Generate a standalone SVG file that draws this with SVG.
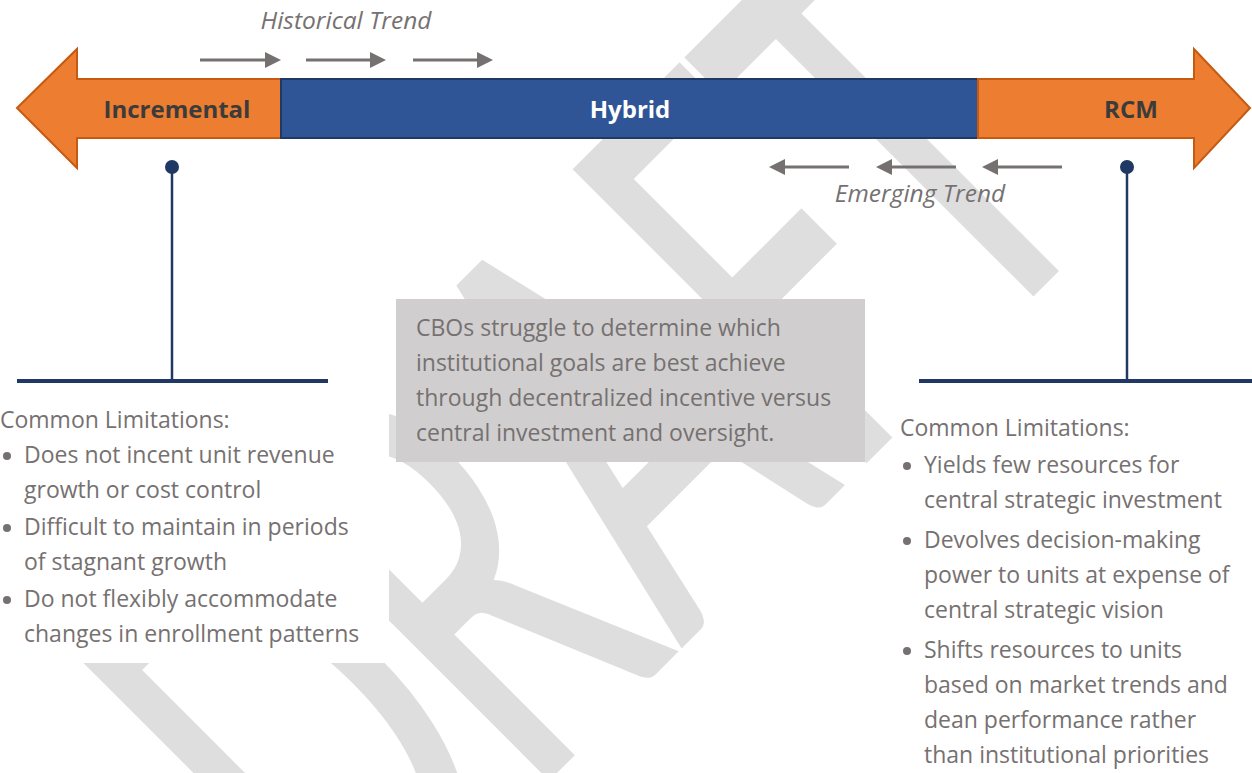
<svg xmlns="http://www.w3.org/2000/svg" width="1252" height="773" viewBox="0 0 1252 773">
  <style>
    .body { font-family: "Open Sans", "Liberation Sans", sans-serif; font-size: 23px; fill: #767171; }
    .bullet { fill: #767171; }
    .trend { font-family: "Open Sans", "Liberation Sans", sans-serif; font-size: 24.5px; font-style: italic; fill: #767171; text-anchor: middle; }
    .label { font-family: "Open Sans", "Liberation Sans", sans-serif; font-size: 24px; font-weight: bold; text-anchor: middle; }
    .orange { fill: #ED7D31; stroke: #C55A11; stroke-width: 2; }
    .navy { stroke: #1F3864; fill: none; }
    .trendline { stroke: #767171; stroke-width: 3; fill: none; marker-end: url(#head); }
    .watermark { font-family: Lato, "Open Sans", sans-serif; font-size: 400px; font-weight: 500; fill: #DEDEDE; }
  </style>
  <defs>
    <marker id="head" markerUnits="userSpaceOnUse" markerWidth="16" markerHeight="16" refX="0" refY="8" orient="auto">
      <path d="M0,0 L16,8 L0,16 z" fill="#767171"/>
    </marker>
  </defs>

  <rect width="1252" height="773" fill="#FFFFFF"/>

  <!-- background watermark -->
  <g id="watermark" transform="translate(354,976) rotate(-45) scale(0.85,1.448)">
    <text class="watermark" x="0 289.4 544.7 817.6 1032.9" y="0">DRAFT</text>
  </g>

  <!-- spectrum bar -->
  <g id="incremental">
    <polygon class="orange" points="17,108 77,49 77,79 281,79 281,138 77,138 77,168"/>
    <text class="label" x="177" y="118" fill="#3B3B3B">Incremental</text>
  </g>
  <g id="hybrid">
    <rect x="281" y="79" width="697" height="59" fill="#2F5597" stroke="#1F3864" stroke-width="2"/>
    <text class="label" x="630" y="118" fill="#FFFFFF">Hybrid</text>
  </g>
  <g id="rcm">
    <polygon class="orange" points="978,79 1194,79 1194,49 1250,108 1194,168 1194,138 978,138"/>
    <text class="label" x="1131" y="118" fill="#3B3B3B">RCM</text>
  </g>

  <!-- trend captions -->
  <g id="historical-trend">
    <text class="trend" x="346" y="29">Historical Trend</text>
  </g>
  <g id="emerging-trend">
    <text class="trend" x="920" y="202">Emerging Trend</text>
  </g>

  <!-- note -->
  <g id="note">
    <rect x="396" y="299" width="469" height="163" fill="#D0CECE"/>
    <text class="body">
      <tspan x="416" y="336">CBOs struggle to determine which</tspan>
      <tspan x="416" y="371">institutional goals are best achieve</tspan>
      <tspan x="416" y="406">through decentralized incentive versus</tspan>
      <tspan x="416" y="441">central investment and oversight.</tspan>
    </text>
  </g>

  <!-- limitations of the incremental model -->
  <g id="incremental-limits">
    <rect x="0" y="384" width="389" height="279" fill="#FFFFFF"/>
    <circle class="bullet" cx="7" cy="456" r="4"/>
    <circle class="bullet" cx="7" cy="528" r="4"/>
    <circle class="bullet" cx="7" cy="600" r="4"/>
    <text class="body">
      <tspan x="0" y="428">Common Limitations:</tspan>
      <tspan x="24" y="463">Does not incent unit revenue</tspan>
      <tspan x="24" y="498">growth or cost control</tspan>
      <tspan x="24" y="535">Difficult to maintain in periods</tspan>
      <tspan x="24" y="570">of stagnant growth</tspan>
      <tspan x="24" y="607">Do not flexibly accommodate</tspan>
      <tspan x="24" y="642">changes in enrollment patterns</tspan>
    </text>
  </g>

  <!-- limitations of RCM -->
  <g id="rcm-limits">
    <circle class="bullet" cx="907" cy="466" r="4"/>
    <circle class="bullet" cx="907" cy="541" r="4"/>
    <circle class="bullet" cx="907" cy="651" r="4"/>
    <text class="body">
      <tspan x="900" y="436">Common Limitations:</tspan>
      <tspan x="924" y="473">Yields few resources for</tspan>
      <tspan x="924" y="508">central strategic investment</tspan>
      <tspan x="924" y="548">Devolves decision-making</tspan>
      <tspan x="924" y="583">power to units at expense of</tspan>
      <tspan x="924" y="618">central strategic vision</tspan>
      <tspan x="924" y="658">Shifts resources to units</tspan>
      <tspan x="924" y="693">based on market trends and</tspan>
      <tspan x="924" y="728">dean performance rather</tspan>
      <tspan x="924" y="763">than institutional priorities</tspan>
    </text>
  </g>

  <!-- connectors: trend arrows and callout pins -->
  <g id="connectors">
    <line class="trendline" x1="200" y1="60" x2="265" y2="60"/>
    <line class="trendline" x1="306" y1="60" x2="370" y2="60"/>
    <line class="trendline" x1="413" y1="60" x2="477" y2="60"/>
    <line class="trendline" x1="849" y1="167" x2="785" y2="167"/>
    <line class="trendline" x1="956" y1="167" x2="892" y2="167"/>
    <line class="trendline" x1="1062" y1="167" x2="998" y2="167"/>

    <line class="navy" x1="172" y1="167" x2="172" y2="381" stroke-width="2.5"/>
    <line class="navy" x1="17" y1="381" x2="328" y2="381" stroke-width="4"/>
    <circle cx="172" cy="167" r="7" fill="#1F3864"/>

    <line class="navy" x1="1127" y1="167" x2="1127" y2="381" stroke-width="2.5"/>
    <line class="navy" x1="919" y1="381" x2="1252" y2="381" stroke-width="4"/>
    <circle cx="1127" cy="167" r="7" fill="#1F3864"/>
  </g>
</svg>
